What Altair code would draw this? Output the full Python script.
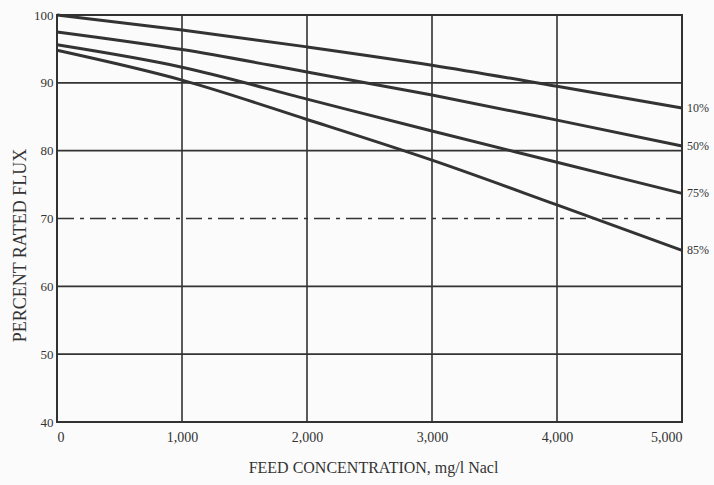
import altair as alt
import pandas as pd

conc = [0, 1000, 2000, 3000, 4000, 5000]
flux_10 = [100.0, 97.8, 95.3, 92.6, 89.5, 86.3]
flux_50 = [97.5, 94.9, 91.6, 88.2, 84.5, 80.7]
flux_75 = [95.6, 92.3, 87.6, 82.9, 78.3, 73.7]
flux_85 = [94.8, 90.4, 84.6, 78.6, 72.0, 65.3]
series_names = ["10%", "50%", "75%", "85%"]
x_ticks = [0, 1000, 2000, 3000, 4000, 5000]
y_ticks = [40, 50, 60, 70, 80, 90, 100]
dashed_y = [70]

rows = []
for name, vals in zip(series_names, [flux_10, flux_50, flux_75, flux_85]):
    for c, v in zip(conc, vals):
        rows.append({"conc": c, "flux": v, "series": name})
df = pd.DataFrame(rows)
end_df = df[df["conc"] == conc[-1]]

ygrid = pd.DataFrame({"y": y_ticks, "dash": ["dash" if v in dashed_y else "solid" for v in y_ticks]})
xgrid = pd.DataFrame({"x": x_ticks})

FONT = "Liberation Serif"
INK = "#333333"

xscale = alt.Scale(domain=[0, 5000], nice=False)
yscale = alt.Scale(domain=[40, 100], nice=False)

xaxis = alt.Axis(values=x_ticks, format=",d", grid=False, ticks=False, domain=False,
                 labelFont=FONT, labelFontSize=14, labelColor=INK, labelPadding=8,
                 title="FEED CONCENTRATION, mg/l Nacl", titleFont=FONT, titleFontSize=16,
                 titleFontWeight="normal", titleColor=INK, titleX=316, titleY=37)
yaxis = alt.Axis(values=y_ticks, grid=False, ticks=False, domain=False,
                 labelFont=FONT, labelFontSize=13, labelColor=INK, labelPadding=4,
                 title="PERCENT RATED FLUX", titleFont=FONT, titleFontSize=18,
                 titleFontWeight="normal", titleColor=INK, titleY=230, titleX=-28)

vgrid = alt.Chart(xgrid).mark_rule(color=INK, strokeWidth=1.6).encode(
    x=alt.X("x:Q", scale=xscale, axis=xaxis)
)
hgrid_solid = alt.Chart(ygrid[ygrid["dash"] == "solid"]).mark_rule(color=INK, strokeWidth=1.6).encode(
    y=alt.Y("y:Q", scale=yscale, axis=yaxis)
)
hgrid_dash = alt.Chart(ygrid[ygrid["dash"] == "dash"]).mark_rule(
    color=INK, strokeWidth=1.6, strokeDash=[16, 6, 4, 6]
).encode(y=alt.Y("y:Q", scale=yscale))

lines = alt.Chart(df).mark_line(color=INK, strokeWidth=3, interpolate="monotone").encode(
    x=alt.X("conc:Q", scale=xscale),
    y=alt.Y("flux:Q", scale=yscale),
    detail="series:N",
)
labels = alt.Chart(end_df).mark_text(
    align="left", baseline="middle", dx=5, font=FONT, fontSize=12, color=INK
).encode(
    x=alt.X("conc:Q", scale=xscale),
    y=alt.Y("flux:Q", scale=yscale),
    text="series:N",
)

chart = alt.layer(vgrid, hgrid_solid, hgrid_dash, lines, labels).properties(
    width=625, height=407,
    autosize=alt.AutoSizeParams(type="none"),
    padding={"left": 57, "top": 15, "right": 32, "bottom": 63},
    background="#fbfbfb",
).configure_view(stroke=INK, strokeWidth=2)

chart.save("out.html", embed_options={"renderer": "svg", "actions": False})
